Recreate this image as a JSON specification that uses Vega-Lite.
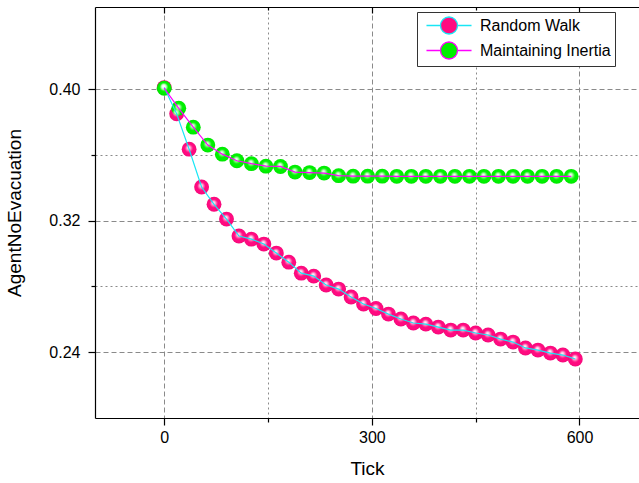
{
  "$schema": "https://vega.github.io/schema/vega-lite/v6.json",
  "width": 544,
  "height": 411,
  "autosize": {"type": "none"},
  "padding": {"left": 95, "top": 7, "right": 0, "bottom": 65},
  "background": "white",
  "config": {
    "font": "Liberation Sans",
    "view": {"stroke": null}
  },
  "data": {
    "values": [
      {"series": "Random Walk", "tick": 0, "value": 0.401},
      {"series": "Random Walk", "tick": 18, "value": 0.385},
      {"series": "Random Walk", "tick": 36, "value": 0.3635},
      {"series": "Random Walk", "tick": 54, "value": 0.3405},
      {"series": "Random Walk", "tick": 72, "value": 0.330},
      {"series": "Random Walk", "tick": 90, "value": 0.321},
      {"series": "Random Walk", "tick": 108, "value": 0.3107},
      {"series": "Random Walk", "tick": 126, "value": 0.3088},
      {"series": "Random Walk", "tick": 144, "value": 0.3058},
      {"series": "Random Walk", "tick": 162, "value": 0.3003},
      {"series": "Random Walk", "tick": 180, "value": 0.2948},
      {"series": "Random Walk", "tick": 198, "value": 0.2881},
      {"series": "Random Walk", "tick": 216, "value": 0.2863},
      {"series": "Random Walk", "tick": 234, "value": 0.2809},
      {"series": "Random Walk", "tick": 252, "value": 0.2784},
      {"series": "Random Walk", "tick": 270, "value": 0.2736},
      {"series": "Random Walk", "tick": 288, "value": 0.2693},
      {"series": "Random Walk", "tick": 306, "value": 0.2666},
      {"series": "Random Walk", "tick": 324, "value": 0.2632},
      {"series": "Random Walk", "tick": 342, "value": 0.2602},
      {"series": "Random Walk", "tick": 360, "value": 0.2578},
      {"series": "Random Walk", "tick": 378, "value": 0.2571},
      {"series": "Random Walk", "tick": 396, "value": 0.2553},
      {"series": "Random Walk", "tick": 414, "value": 0.2535},
      {"series": "Random Walk", "tick": 432, "value": 0.2535},
      {"series": "Random Walk", "tick": 450, "value": 0.2517},
      {"series": "Random Walk", "tick": 468, "value": 0.2505},
      {"series": "Random Walk", "tick": 486, "value": 0.2480},
      {"series": "Random Walk", "tick": 504, "value": 0.2462},
      {"series": "Random Walk", "tick": 522, "value": 0.2426},
      {"series": "Random Walk", "tick": 540, "value": 0.2413},
      {"series": "Random Walk", "tick": 558, "value": 0.2395},
      {"series": "Random Walk", "tick": 576, "value": 0.2383},
      {"series": "Random Walk", "tick": 594, "value": 0.2359},
      {"series": "Maintaining Inertia", "tick": 0, "value": 0.4006},
      {"series": "Maintaining Inertia", "tick": 21, "value": 0.3884},
      {"series": "Maintaining Inertia", "tick": 42, "value": 0.3769},
      {"series": "Maintaining Inertia", "tick": 63, "value": 0.3660},
      {"series": "Maintaining Inertia", "tick": 84, "value": 0.3605},
      {"series": "Maintaining Inertia", "tick": 105, "value": 0.3565},
      {"series": "Maintaining Inertia", "tick": 126, "value": 0.3547},
      {"series": "Maintaining Inertia", "tick": 147, "value": 0.3532},
      {"series": "Maintaining Inertia", "tick": 168, "value": 0.3530},
      {"series": "Maintaining Inertia", "tick": 189, "value": 0.3496},
      {"series": "Maintaining Inertia", "tick": 210, "value": 0.3493},
      {"series": "Maintaining Inertia", "tick": 231, "value": 0.3490},
      {"series": "Maintaining Inertia", "tick": 252, "value": 0.3474},
      {"series": "Maintaining Inertia", "tick": 273, "value": 0.3471},
      {"series": "Maintaining Inertia", "tick": 294, "value": 0.3471},
      {"series": "Maintaining Inertia", "tick": 315, "value": 0.3471},
      {"series": "Maintaining Inertia", "tick": 336, "value": 0.3470},
      {"series": "Maintaining Inertia", "tick": 357, "value": 0.3470},
      {"series": "Maintaining Inertia", "tick": 378, "value": 0.3470},
      {"series": "Maintaining Inertia", "tick": 399, "value": 0.3470},
      {"series": "Maintaining Inertia", "tick": 420, "value": 0.3470},
      {"series": "Maintaining Inertia", "tick": 441, "value": 0.3470},
      {"series": "Maintaining Inertia", "tick": 462, "value": 0.3470},
      {"series": "Maintaining Inertia", "tick": 483, "value": 0.3470},
      {"series": "Maintaining Inertia", "tick": 504, "value": 0.3470},
      {"series": "Maintaining Inertia", "tick": 525, "value": 0.3470},
      {"series": "Maintaining Inertia", "tick": 546, "value": 0.3470},
      {"series": "Maintaining Inertia", "tick": 567, "value": 0.3470},
      {"series": "Maintaining Inertia", "tick": 588, "value": 0.3470}
    ]
  },
  "resolve": {"axis": {"x": "independent"}},
  "layer": [
    {
      "mark": {"type": "point", "filled": true, "opacity": 1, "size": 220, "strokeWidth": 0},
      "encoding": {
        "x": {
          "field": "tick", "type": "quantitative",
          "scale": {"domain": [-100, 686], "nice": false, "zero": false},
          "axis": {
            "orient": "bottom",
            "title": "Tick",
            "values": [0, 150, 300, 450, 600],
            "labelExpr": "datum.value % 300 === 0 ? datum.label : ''",
            "labelFontSize": 16,
            "labelColor": "#000",
            "labelPadding": 4,
            "titleFontSize": 19,
            "titleFontWeight": "normal",
            "titleColor": "#000",
            "titlePadding": 14,
            "domainColor": "#000",
            "domainWidth": 1.2,
            "tickColor": "#000",
            "tickWidth": 1.2,
            "tickSize": {"condition": {"test": "datum.value % 300 === 0", "value": 7}, "value": 4},
            "grid": true,
            "gridColor": "#8a8a8a",
            "gridWidth": 1,
            "gridDash": {"condition": {"test": "datum.value % 300 === 0", "value": [5, 3]}, "value": [2, 3]}
          }
        },
        "y": {
          "field": "value", "type": "quantitative",
          "scale": {"domain": [0.2, 0.45], "nice": false, "zero": false},
          "axis": {
            "title": "AgentNoEvacuation",
            "values": [0.24, 0.28, 0.32, 0.36, 0.40],
            "format": ".2f",
            "labelExpr": "round(datum.value * 100) % 8 === 0 ? datum.label : ''",
            "labelFontSize": 16,
            "labelColor": "#000",
            "labelPadding": 8,
            "titleFontSize": 19,
            "titleFontWeight": "normal",
            "titleColor": "#000",
            "titlePadding": 24,
            "domainColor": "#000",
            "domainWidth": 1.2,
            "tickColor": "#000",
            "tickWidth": 1.2,
            "tickSize": {"condition": {"test": "round(datum.value * 100) % 8 === 0", "value": 7}, "value": 4},
            "grid": true,
            "gridColor": "#8a8a8a",
            "gridWidth": 1,
            "gridDash": {"condition": {"test": "round(datum.value * 100) % 8 === 0", "value": [5, 3]}, "value": [2, 3]}
          }
        },
        "fill": {
          "field": "series", "type": "nominal",
          "scale": {"domain": ["Random Walk", "Maintaining Inertia"], "range": ["#ff0a80", "#00f000"]},
          "legend": {
            "title": null,
            "orient": "none",
            "legendX": 322,
            "legendY": 5,
            "padding": 4,
            "fillColor": "white",
            "strokeColor": "#333",
            "labelFontSize": 16,
            "labelColor": "#000",
            "symbolType": "M-2.65,0L-1,0M1,0L2.65,0M1,0A1,1,0,1,1,-1,0A1,1,0,1,1,1,0Z",
            "symbolSize": 289,
            "symbolStrokeWidth": 1.3,
            "symbolOpacity": 1,
            "symbolOffset": 18.5,
            "labelOffset": 21.5,
            "rowPadding": 2
          }
        }
      }
    },
    {
      "mark": {
        "type": "point", "filled": true, "opacity": 1, "size": 220, "strokeWidth": 0,
        "fill": {
          "gradient": "radial",
          "x1": 0.46, "y1": 0.38, "r1": 0,
          "x2": 0.5, "y2": 0.5, "r2": 0.5,
          "stops": [
            {"offset": 0, "color": "rgba(255,255,255,1)"},
            {"offset": 0.15, "color": "rgba(255,255,255,0.85)"},
            {"offset": 0.55, "color": "rgba(255,255,255,0)"},
            {"offset": 0.85, "color": "rgba(0,0,0,0)"},
            {"offset": 1, "color": "rgba(0,0,0,0.06)"}
          ]
        }
      },
      "encoding": {
        "x": {"field": "tick", "type": "quantitative", "axis": null},
        "y": {"field": "value", "type": "quantitative"}
      }
    },
    {
      "mark": {"type": "line", "strokeWidth": 1.2},
      "encoding": {
        "x": {
          "field": "tick", "type": "quantitative",
          "axis": {
            "orient": "top",
            "title": null,
            "values": [0, 150, 300, 450, 600],
            "labels": false,
            "grid": false,
            "domainColor": "#000",
            "domainWidth": 1.2,
            "tickColor": "#000",
            "tickWidth": 1.2,
            "tickSize": {"condition": {"test": "datum.value % 300 === 0", "value": -6}, "value": -3}
          }
        },
        "y": {"field": "value", "type": "quantitative"},
        "detail": {"field": "series"},
        "stroke": {
          "field": "series", "type": "nominal",
          "scale": {"domain": ["Random Walk", "Maintaining Inertia"], "range": ["#18e6f5", "#ff00ff"]},
          "legend": {
            "title": null,
            "orient": "none",
            "legendX": 322,
            "legendY": 5,
            "padding": 4,
            "fillColor": "white",
            "strokeColor": "#333",
            "labelFontSize": 16,
            "labelColor": "#000",
            "symbolType": "M-2.65,0L-1,0M1,0L2.65,0M1,0A1,1,0,1,1,-1,0A1,1,0,1,1,1,0Z",
            "symbolSize": 289,
            "symbolStrokeWidth": 1.3,
            "symbolOpacity": 1,
            "symbolOffset": 18.5,
            "labelOffset": 21.5,
            "rowPadding": 2
          }
        }
      }
    }
  ]
}
